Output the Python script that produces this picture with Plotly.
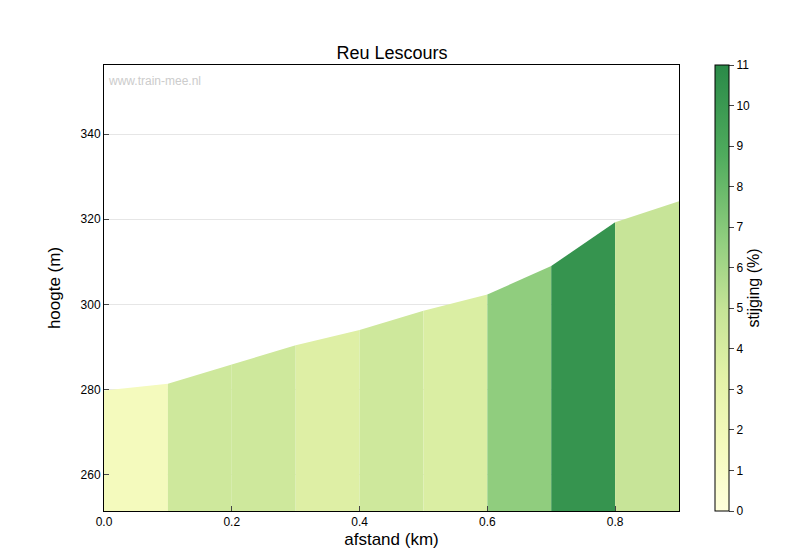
import plotly.graph_objects as go
from plotly.colors import sample_colorscale

afstand = [0.0, 0.1, 0.2, 0.3, 0.4, 0.5, 0.6, 0.7, 0.8, 0.9]
hoogte = [279.8, 281.4, 285.9, 290.4, 294.0, 298.5, 302.3, 309.0, 319.3, 324.2]
cmax = 11
cscale = [[0, '#ffffdc'], [0.15, '#f4fabc'], [0.3, '#e3f2a8'], [0.45, '#c6e497'],
          [0.6, '#93cf80'], [0.8, '#4fab5d'], [1, '#2a8a48']]

fig = go.Figure()
for i in range(len(afstand) - 1):
    g = (hoogte[i + 1] - hoogte[i]) / ((afstand[i + 1] - afstand[i]) * 1000) * 100
    c = sample_colorscale(cscale, [min(max(g / cmax, 0), 1)])[0]
    fig.add_trace(go.Scatter(x=[afstand[i], afstand[i + 1]], y=[hoogte[i], hoogte[i + 1]],
                             mode='lines', line=dict(width=0, color=c), fill='tozeroy',
                             fillcolor=c, showlegend=False, hoverinfo='skip'))
fig.add_trace(go.Scatter(x=[None], y=[None], mode='markers', showlegend=False,
                         marker=dict(color=[0], cmin=0, cmax=cmax, colorscale=cscale, showscale=True,
                                     colorbar=dict(title=dict(text='stijging (%)', side='right', font=dict(size=16)),
                                                   tickvals=list(range(0, 12)), ticks='outside',
                                                   x=1.045, xanchor='left', y=0.5, len=1.0, lenmode='fraction',
                                                   thickness=14, ypad=0,
                                                   outlinewidth=1, outlinecolor='black',
                                                   tickfont=dict(size=12)))))
fig.update_layout(
    width=800, height=560, plot_bgcolor='white', paper_bgcolor='white',
    margin=dict(l=96, r=129, t=57, b=57, autoexpand=False),
    font=dict(family='Liberation Sans, Arial', color='black'),
    title=dict(text='Reu Lescours', x=0.48, xanchor='center', y=0.92, yanchor='middle', font=dict(size=18)),
    xaxis=dict(range=[0, 0.9], tickvals=[0, 0.2, 0.4, 0.6, 0.8], tickformat='.1f', automargin=False,
               title=dict(text='afstand (km)', font=dict(size=17), standoff=4),
               showgrid=False, showline=True, mirror=True, linecolor='black', ticks='inside', zeroline=False),
    yaxis=dict(range=[251.5, 356.2], tickvals=[260, 280, 300, 320, 340], automargin=False,
               title=dict(text='hoogte (m)', font=dict(size=17)),
               showgrid=True, gridcolor='#e6e6e6', showline=True, mirror=True, linecolor='black',
               ticks='inside', zeroline=False),
    annotations=[dict(text='www.train-mee.nl', xref='paper', yref='paper', x=0.003, y=0.985,
                      xanchor='left', yanchor='top', showarrow=False, font=dict(size=12, color='#cccccc'))]
)
fig.write_html('out.html')
